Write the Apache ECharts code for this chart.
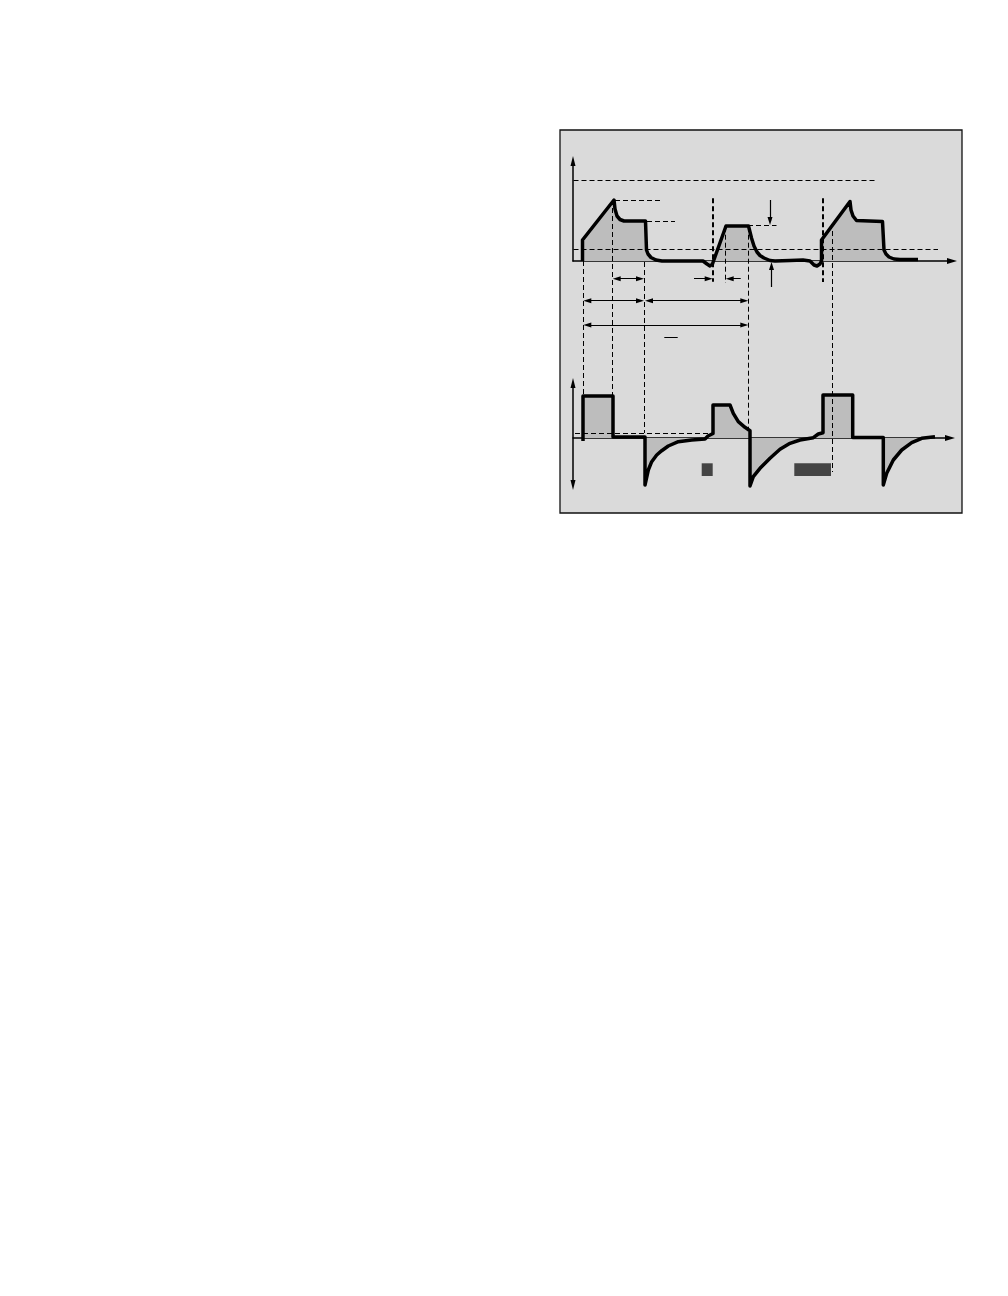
<!DOCTYPE html>
<html>
<head>
<meta charset="utf-8">
<script src="https://cdn.jsdelivr.net/npm/echarts@6/dist/echarts.min.js"></script>
<style>
html, body { margin: 0; padding: 0; background: #fff; }
#chart { width: 1008px; height: 1296px; }
</style>
</head>
<body>
<div id="chart"></div>
<script>
// time is counted from the pressure axis, signals from their own baseline (same unit on both)
const pressureTrace = [
  [9.5, 0], [9.5, 21], [41, 61], [42, 52], [44, 45], [47, 41.5], [51, 40], [72.5, 40],
  [73.5, 11], [75, 7], [78, 3.5], [83, 1], [89, 0], [130, 0], [134, -3], [137, -5], [139.5, -3], [140.5, 0],
  [153, 35], [175.5, 35], [178.5, 23], [181, 15], [184, 9], [187, 5.5], [191, 3], [197, 0.5], [202, 0],
  [217, 0.5], [230, 1], [237, 0], [241, -4], [244, -5], [247, -3], [248.5, 0],
  [248.5, 21], [277, 59.5], [278, 51], [280, 45], [283.5, 40.5], [309.5, 39.5],
  [311, 11], [313, 7], [316, 4], [321, 2], [327, 1.5], [345, 1.5]
];
const flowTrace = [
  [10, -3], [10, 42], [40, 42], [40, 1], [72, 1],
  [72, -47], [75.3, -32], [78.7, -23.7], [83.7, -17], [88.7, -12.7], [95.3, -8], [105.3, -3.7], [118.7, -2], [132, -1],
  [135, 2], [137, 3.5], [140, 4.5], [140, 33], [157, 33], [160.3, 24.7], [165.3, 16.3], [172, 10.7], [177, 7.3],
  [177, -48], [180.3, -38.7], [187, -30.3], [197, -20.3], [207, -11.3], [217, -5.3], [227, -2], [240.3, 0.3],
  [245.3, 4], [250, 5.3], [250, 43], [279.7, 43], [279.7, 0.5], [310.3, 0.5],
  [310.3, -47], [313.7, -35.3], [320.3, -22], [328.7, -12], [338.7, -4.7], [348.7, -0.3], [362, 1.3]
];

// annotation layer: same time scale, heights measured from the pressure baseline
const levelLines = [      // [t from, t to, level]
  [0.5, 302, 80.7], [0.5, 365, 11.7], [42, 87, 61], [74, 102, 39.3], [175, 203.5, 35.3], [2, 135, -172.3]
];
const markerLines = [     // [t, top, bottom]
  [10.3, 0, -134], [39.7, 61, -134.5], [71.3, -1, -172], [152.7, 34.3, -22], [175.3, 34.3, -169], [259.5, 30, -211]
];
const triggerLines = [    // [t, top, bottom]
  [139.7, 62.7, -20.7], [249.3, 62.7, -21]
];
const spanArrows = [      // both heads
  [[39.7, -17.7], [71, -17.7]], [[10.3, -39.7], [71, -39.7]], [[72, -39.7], [175.3, -39.7]], [[10.3, -64], [175.3, -64]]
];
const pointArrows = [     // head at the second point
  [[121, -17.7], [139.7, -17.7]], [[167.7, -17.7], [152.7, -17.7]], [[197, 61], [197, 36]], [[198.5, -26], [198.5, -1]]
];
const ratioBar = [[91.3, -76], [104.7, -76]];
const blocks = [[[128.7, -202.3], [139.7, -215]], [[221.3, -202.3], [258, -215]]];

const HEAD = 8;
// arrow symbols sit centred on the line end, so pull the end back by half a head
function pull(a, b) {
  const dx = b[0] - a[0], dy = b[1] - a[1];
  const len = Math.sqrt(dx * dx + dy * dy);
  return [b[0] - dx / len * HEAD / 2, b[1] - dy / len * HEAD / 2];
}

const chart = echarts.init(document.getElementById('chart'));
const hiddenAxis = { show: false };
const axisLine = (symbol, size) => ({
  show: true, onZero: true, symbol: symbol, symbolSize: size,
  lineStyle: { color: '#000', width: 1.5 }
});
const bare = { axisTick: { show: false }, axisLabel: { show: false }, splitLine: { show: false } };

const option = {
  animation: false,
  backgroundColor: '#fff',
  grid: [
    { left: 560, top: 130, width: 402, height: 383, show: true, backgroundColor: '#dadada', borderColor: '#111', borderWidth: 1.3 },
    { left: 573, top: 161, width: 379, height: 100 },
    { left: 573, top: 383, width: 377, height: 102 }
  ],
  xAxis: [
    Object.assign({ gridIndex: 0, type: 'value', min: -13, max: 389 }, hiddenAxis),
    Object.assign({ gridIndex: 1, type: 'value', min: 0, max: 379, axisLine: axisLine(['none', 'triangle'], [6, 10]) }, bare),
    Object.assign({ gridIndex: 2, type: 'value', min: 0, max: 377, axisLine: axisLine(['none', 'triangle'], [6, 10]) }, bare)
  ],
  yAxis: [
    Object.assign({ gridIndex: 0, type: 'value', min: -252, max: 131 }, hiddenAxis),
    Object.assign({ gridIndex: 1, type: 'value', min: 0, max: 100, axisLine: axisLine(['none', 'triangle'], [5, 10]) }, bare),
    Object.assign({ gridIndex: 2, type: 'value', min: -47, max: 55, axisLine: axisLine(['triangle', 'triangle'], [5, 10]) }, bare)
  ],
  series: [
    {
      type: 'lines', coordinateSystem: 'cartesian2d', xAxisIndex: 0, yAxisIndex: 0, z: 3,
      lineStyle: { color: '#000', width: 1, type: [5, 3], opacity: 1 },
      data: levelLines.map(d => ({ coords: [[d[0], d[2]], [d[1], d[2]]] }))
        .concat(markerLines.map(d => ({ coords: [[d[0], d[1]], [d[0], d[2]]] })))
    },
    {
      type: 'lines', coordinateSystem: 'cartesian2d', xAxisIndex: 0, yAxisIndex: 0, z: 3,
      lineStyle: { color: '#000', width: 2, type: [5, 3], opacity: 1 },
      data: triggerLines.map(d => ({ coords: [[d[0], d[1]], [d[0], d[2]]] }))
    },
    {
      type: 'lines', coordinateSystem: 'cartesian2d', xAxisIndex: 0, yAxisIndex: 0, z: 4,
      symbol: ['triangle', 'triangle'], symbolSize: [[5, HEAD], [5, HEAD]],
      lineStyle: { color: '#000', width: 1.2, opacity: 1 },
      data: spanArrows.map(d => ({ coords: [pull(d[1], d[0]), pull(d[0], d[1])] }))
    },
    {
      type: 'lines', coordinateSystem: 'cartesian2d', xAxisIndex: 0, yAxisIndex: 0, z: 4,
      symbol: ['none', 'triangle'], symbolSize: [[5, HEAD], [5, HEAD]],
      lineStyle: { color: '#000', width: 1.2, opacity: 1 },
      data: pointArrows.map(d => ({ coords: [d[0], pull(d[0], d[1])] }))
    },
    {
      type: 'lines', coordinateSystem: 'cartesian2d', xAxisIndex: 0, yAxisIndex: 0, z: 4,
      lineStyle: { color: '#000', width: 1.2, opacity: 1 },
      data: [{ coords: ratioBar }],
      markArea: {
        silent: true,
        itemStyle: { color: '#444', opacity: 1 },
        data: blocks.map(b => [{ coord: b[0] }, { coord: b[1] }])
      }
    },
    {
      type: 'line', xAxisIndex: 1, yAxisIndex: 1, z: 2, clip: false,
      symbol: 'none', data: pressureTrace,
      lineStyle: { color: '#000', width: 3.5, join: 'round' },
      areaStyle: { color: '#bdbdbd', opacity: 1 }
    },
    {
      type: 'line', xAxisIndex: 2, yAxisIndex: 2, z: 2, clip: false,
      symbol: 'none', data: flowTrace,
      lineStyle: { color: '#000', width: 3.5, join: 'round' },
      areaStyle: { color: '#bdbdbd', opacity: 1 }
    }
  ]
};
chart.setOption(option);
</script>
</body>
</html>
